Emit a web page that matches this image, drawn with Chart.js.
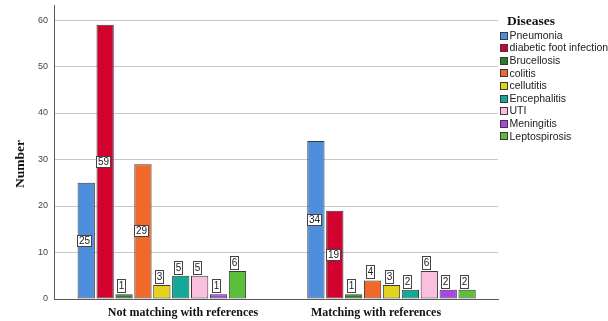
<!DOCTYPE html>
<html><head><meta charset="utf-8">
<script src="https://cdn.jsdelivr.net/npm/chart.js@4/dist/chart.umd.min.js"></script>
<style>html,body{margin:0;padding:0;background:#fff;overflow:hidden}#wrap{width:608px;height:321px;position:relative}</style>
</head><body><div id="wrap"><canvas id="c" width="608" height="321"></canvas></div>
<script>
const categories = ["Not matching with references", "Matching with references"];
const diseases = ["Pneumonia","diabetic foot infection","Brucellosis","colitis","cellutitis","Encephalitis","UTI","Meningitis","Leptospirosis"];
const notMatching = [25, 59, 1, 29, 3, 5, 5, 1, 6];
const matching = [34, 19, 1, 4, 3, 2, 6, 2, 2];
const colors = ["#4F8EDC","#D2022E","#2B7B2B","#F0682A","#E3D31C","#13A898","#F9BFDC","#A845E6","#5CBF3A"];
const yTicks = [0, 10, 20, 30, 40, 50, 60];
const yTitle = "Number";
const legendTitle = "Diseases";

const SERIF = '"Liberation Serif", "Times New Roman", serif';
const SANS = '"Liberation Sans", Arial, sans-serif';

const datasets = diseases.map((name, i) => ({
  label: name,
  data: [{x: 0, y: notMatching[i]}, {x: 1, y: matching[i]}],
  backgroundColor: colors[i],
  borderColor: '#3a3a3a',
  borderWidth: 1,
  borderSkipped: false,
  categoryPercentage: 0.7407,
  barPercentage: 0.915
}));

const overlay = {
  id: 'overlay',
  afterDatasetsDraw(chart) {
    const ctx = chart.ctx;
    ctx.save();
    ctx.font = '10px ' + SANS;
    ctx.textAlign = 'center';
    ctx.textBaseline = 'middle';
    chart.data.datasets.forEach((ds, di) => {
      const meta = chart.getDatasetMeta(di);
      meta.data.forEach((bar, j) => {
        const v = ds.data[j].y;
        const p = bar.getProps(['x', 'y', 'base'], true);
        const txt = String(v);
        const tw = ctx.measureText(txt).width;
        let bx, by, h, w, ty;
        if (v >= 10) {
          w = Math.round(tw + 4);
          h = 12;
          const cy = (p.y + p.base) / 2;
          bx = Math.round(p.x - 1.5 - w / 2);
          by = Math.round(cy - h / 2);
          ty = by + h / 2 + 0.5;
        } else {
          w = Math.max(Math.round(tw + 3), 9);
          h = 14;
          bx = Math.round(p.x - 2.5 - w / 2);
          by = Math.round(p.y - 1 - h);
          ty = by + 7;
        }
        ctx.fillStyle = '#fff';
        ctx.fillRect(bx, by, w, h);
        ctx.strokeStyle = '#444';
        ctx.lineWidth = 1;
        ctx.strokeRect(bx + 0.5, by + 0.5, w - 1, h - 1);
        ctx.fillStyle = '#222';
        ctx.fillText(txt, bx + w / 2, ty);
      });
    });
    ctx.restore();
  },
  afterDraw(chart) {
    const ctx = chart.ctx;
    ctx.save();
    ctx.fillStyle = '#111';
    ctx.textAlign = 'left';
    ctx.textBaseline = 'alphabetic';
    ctx.font = 'bold 13.5px ' + SERIF;
    ctx.fillText(legendTitle, 507, 24.5);
    ctx.font = '10.5px ' + SANS;
    ctx.textBaseline = 'middle';
    chart.data.datasets.forEach((ds, i) => {
      const cy = 35.5 + i * 12.6;
      const by = Math.round(cy - 4);
      ctx.fillStyle = ds.backgroundColor;
      ctx.fillRect(500, by, 8, 8);
      ctx.strokeStyle = '#3a3a3a';
      ctx.lineWidth = 1;
      ctx.strokeRect(500.5, by + 0.5, 7, 7);
      ctx.fillStyle = '#222';
      ctx.fillText(ds.label, 509.5, cy + 0.5);
    });
    ctx.translate(21, 164);
    ctx.rotate(-Math.PI / 2);
    ctx.font = 'bold 13.5px ' + SERIF;
    ctx.textAlign = 'center';
    ctx.textBaseline = 'middle';
    ctx.fillStyle = '#111';
    ctx.fillText(yTitle, 0, 0);
    ctx.restore();
  }
};

new Chart(document.getElementById('c'), {
  type: 'bar',
  data: { datasets },
  plugins: [overlay],
  options: {
    responsive: false,
    animation: false,
    devicePixelRatio: 1,
    layout: { padding: { left: 0, right: 110, top: 5, bottom: 0 } },
    plugins: { legend: { display: false }, tooltip: { enabled: false } },
    scales: {
      x: {
        type: 'linear', min: -0.4696, max: 1.4637, offset: false,
        grid: { display: false, drawTicks: false },
        border: { display: false },
        ticks: { display: false },
        afterBuildTicks: s => { s.ticks = categories.map((c, i) => ({ value: i })); },
        afterFit: s => { s.height = 0; s.paddingLeft = 0; s.paddingRight = 0; }
      },
      x2: {
        type: 'linear', position: 'bottom', min: -0.4696, max: 1.4637, offset: false,
        grid: { display: false, drawTicks: false },
        border: { display: true, color: '#5a5a5a' },
        ticks: {
          autoSkip: false, maxRotation: 0, minRotation: 0, padding: 7, color: '#111',
          font: { family: SERIF, size: 12, weight: 'bold' },
          callback: (v, i) => categories[i]
        },
        afterBuildTicks: s => { s.ticks = [0.0921, 0.9325].map(v => ({ value: v })); },
        afterFit: s => { s.height = 22; s.paddingLeft = 0; s.paddingRight = 0; }
      },
      y: {
        min: 0, max: 63.23,
        grid: { color: c => (c.tick && c.tick.value === 0) ? '#5a5a5a' : '#c8c8c8', drawTicks: false },
        border: { display: true, color: '#5a5a5a' },
        ticks: { padding: 6, color: '#444', font: { family: SANS, size: 9 } },
        afterBuildTicks: s => { s.ticks = yTicks.map(v => ({ value: v })); },
        afterFit: s => { s.width = 54; s.paddingTop = 0; s.paddingBottom = 0; }
      }
    }
  }
});
</script>
</body></html>
